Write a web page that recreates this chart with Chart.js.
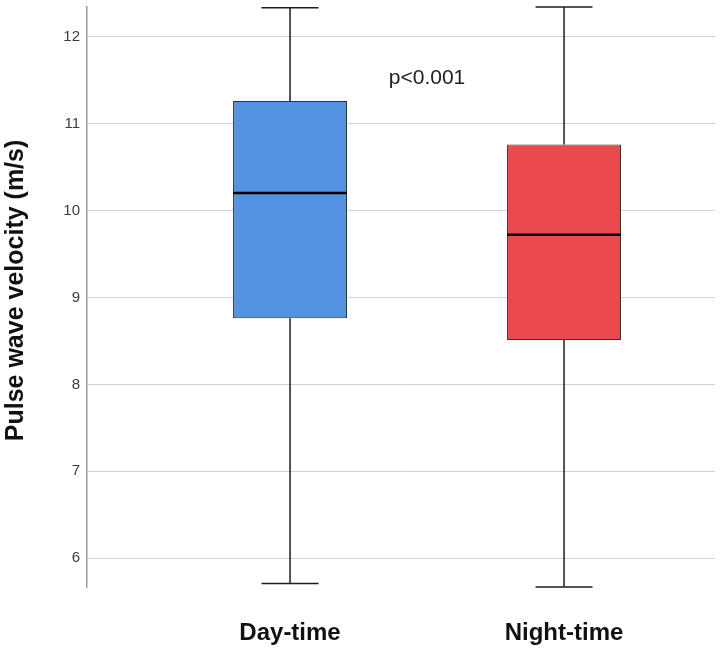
<!DOCTYPE html>
<html>
<head>
<meta charset="utf-8">
<script src="https://cdn.jsdelivr.net/npm/chart.js@4.4.1/dist/chart.umd.min.js"></script>
<style>
  body { margin: 0; background: #fff; }
  canvas { display: block; }
</style>
</head>
<body>
<canvas id="boxChart" width="720" height="652"></canvas>
<script>
// Box plot values
const categories = ['Day-time', 'Night-time'];
const whiskerMin = [5.71, 5.67];
const quartile1 = [8.76, 8.51];
const medians = [10.20, 9.72];
const quartile3 = [11.26, 10.76];
const whiskerMax = [12.33, 12.34];
const boxColors = ['#5294e2', '#ea4a4e'];
const yTicks = [6, 7, 8, 9, 10, 11, 12];
const yTitle = 'Pulse wave velocity (m/s)';
const pValueText = 'p<0.001';

// whiskers, caps, medians, p-value label and the y title
const boxExtras = {
    id: 'boxExtras',
    afterDatasetsDraw(chart) {
        const ctx = chart.ctx;
        const xs = chart.scales.x;
        const ys = chart.scales.y;
        const meta = chart.getDatasetMeta(0);
        ctx.save();
        categories.forEach((c, i) => {
            const x = xs.getPixelForValue(i + 1);
            const half = meta.data[i].width / 2;
            const cap = half / 2;
            ctx.strokeStyle = '#1e1e1e';
            ctx.lineWidth = 1.5;
            ctx.beginPath();
            ctx.moveTo(x, ys.getPixelForValue(whiskerMax[i]));
            ctx.lineTo(x, ys.getPixelForValue(quartile3[i]));
            ctx.moveTo(x, ys.getPixelForValue(quartile1[i]));
            ctx.lineTo(x, ys.getPixelForValue(whiskerMin[i]));
            ctx.moveTo(x - cap, ys.getPixelForValue(whiskerMax[i]));
            ctx.lineTo(x + cap, ys.getPixelForValue(whiskerMax[i]));
            ctx.moveTo(x - cap, ys.getPixelForValue(whiskerMin[i]));
            ctx.lineTo(x + cap, ys.getPixelForValue(whiskerMin[i]));
            ctx.stroke();
            // median
            ctx.strokeStyle = '#000';
            ctx.lineWidth = 2.5;
            ctx.beginPath();
            ctx.moveTo(x - half, ys.getPixelForValue(medians[i]));
            ctx.lineTo(x + half, ys.getPixelForValue(medians[i]));
            ctx.stroke();
        });
        ctx.fillStyle = '#222';
        ctx.font = '21px "Liberation Sans", Arial, sans-serif';
        ctx.textAlign = 'center';
        ctx.textBaseline = 'alphabetic';
        ctx.fillText(pValueText, xs.getPixelForValue(1.5), ys.getPixelForValue(11.46));

        // y title, rotated
        ctx.translate(23, ys.getPixelForValue(9.08));
        ctx.rotate(-Math.PI / 2);
        ctx.fillStyle = '#111';
        ctx.font = 'bold 25px "Liberation Sans", Arial, sans-serif';
        ctx.fillText(yTitle, 0, 0);
        ctx.restore();
    }
};

const ctx = document.getElementById('boxChart').getContext('2d');
new Chart(ctx, {
    type: 'bar',
    data: {
        datasets: [{
            data: categories.map((c, i) => ({ x: i + 1, y: [quartile1[i], quartile3[i]] })),
            backgroundColor: boxColors,
            borderColor: '#333',
            borderWidth: 1,
            borderSkipped: false,
            barPercentage: 0.416,
            categoryPercentage: 1
        }]
    },
    options: {
        responsive: false,
        animation: false,
        layout: { padding: { top: 7, right: 5, left: 0, bottom: 0 } },
        plugins: {
            legend: { display: false },
            tooltip: { enabled: false }
        },
        scales: {
            x: {
                type: 'linear',
                offset: false,
                min: 0.259,
                max: 2.551,
                afterBuildTicks: scale => { scale.ticks = categories.map((c, i) => ({ value: i + 1 })); },
                afterFit: scale => { scale.height = 65; scale.paddingLeft = 0; scale.paddingRight = 0; },
                ticks: {
                    callback: value => categories[value - 1],
                    color: '#111',
                    padding: 32,
                    font: { family: '"Liberation Sans", Arial, sans-serif', size: 24, weight: 'bold' }
                },
                grid: { display: false, drawTicks: false, offset: false },
                border: { display: false }
            },
            y: {
                min: 5.67,
                max: 12.34,
                afterBuildTicks: scale => { scale.ticks = yTicks.map(v => ({ value: v })); },
                afterFit: scale => { scale.width = 87; scale.paddingTop = 0; scale.paddingBottom = 0; },
                ticks: {
                    color: '#3c3c3c',
                    padding: 7,
                    font: { family: '"Liberation Sans", Arial, sans-serif', size: 15 }
                },
                grid: { color: '#d2d2d2', lineWidth: 1, drawTicks: false },
                border: { display: true, color: '#9a9a9a', width: 1.5 }
            }
        }
    },
    plugins: [boxExtras]
});
</script>
</body>
</html>
